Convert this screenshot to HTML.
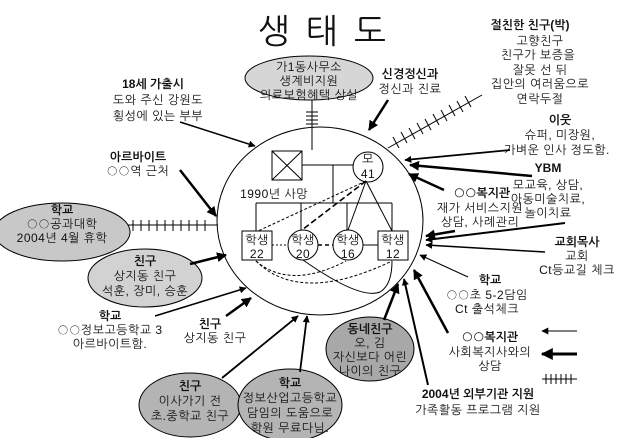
<!DOCTYPE html>
<html><head><meta charset="utf-8"><style>
html,body{margin:0;padding:0;background:#fff;}
svg{display:block;}
text{font-family:"Liberation Sans","NanumGothic","Noto Sans CJK KR",sans-serif;font-size:12px;fill:#111;text-anchor:middle;letter-spacing:0.5px;}
.b{font-weight:bold;letter-spacing:0;}
.o{font-family:"NanumGothic","Noto Sans CJK KR",sans-serif;}
</style></head><body>
<svg width="630" height="438" viewBox="0 0 630 438" xmlns="http://www.w3.org/2000/svg">
<defs>
<marker id="a" viewBox="0 0 10 10" refX="9" refY="5" markerWidth="7" markerHeight="7" markerUnits="userSpaceOnUse" orient="auto"><path d="M0,0L10,5L0,10z" fill="#000"/></marker>
<marker id="a2" viewBox="0 0 10 10" refX="9" refY="5" markerWidth="4" markerHeight="4" orient="auto"><path d="M0,0L10,5L0,10z" fill="#000"/></marker>
</defs>
<text x="330" y="43" style="font-size:34px;font-weight:normal;letter-spacing:16px">생태도</text>

<ellipse cx="320" cy="221" rx="103" ry="94" fill="none" stroke="#000" stroke-width="1"/>

<ellipse cx="309" cy="78" rx="64" ry="22" fill="#d6d6d6" stroke="#000"/>
<text x="309" y="71">가1동사무소</text>
<text x="309" y="85">생계비지원</text>
<text x="309" y="99">의료보험혜택 상실</text>
<line x1="312" y1="100" x2="312" y2="150" stroke="#000"/>
<g stroke="#000"><line x1="306" y1="112" x2="318" y2="112"/><line x1="306" y1="116" x2="318" y2="116"/><line x1="306" y1="120" x2="318" y2="120"/><line x1="306" y1="124" x2="318" y2="124"/></g>

<rect x="272" y="151" width="30" height="29" fill="#fff" stroke="#000"/>
<line x1="272" y1="151" x2="302" y2="180" stroke="#000"/><line x1="302" y1="151" x2="272" y2="180" stroke="#000"/>
<line x1="302" y1="165" x2="353" y2="165" stroke="#000"/>
<ellipse cx="368" cy="167" rx="15" ry="15" fill="#fff" stroke="#000"/>
<text x="368" y="163">모</text><text x="368" y="178">41</text>
<line x1="333" y1="165" x2="333" y2="203" stroke="#000"/>
<line x1="256" y1="203" x2="392" y2="203" stroke="#000"/>
<line x1="256" y1="203" x2="256" y2="231" stroke="#000"/>
<line x1="301" y1="203" x2="301" y2="230" stroke="#000"/>
<line x1="347" y1="203" x2="347" y2="230" stroke="#000"/>
<line x1="392" y1="203" x2="392" y2="231" stroke="#000"/>
<text x="274" y="198">1990년 사망</text>
<line x1="366" y1="181" x2="348" y2="230" stroke="#000"/>
<line x1="366" y1="181" x2="392" y2="231" stroke="#000"/>
<line x1="366" y1="181" x2="258" y2="231" stroke="#000" stroke-dasharray="3,2"/>
<line x1="366" y1="181" x2="302" y2="230" stroke="#000" stroke-width="1.6" stroke-dasharray="6,3"/>
<rect x="242" y="231" width="30" height="29" fill="#fff" stroke="#000"/>
<text x="257" y="244">학생</text><text x="257" y="258">22</text>
<ellipse cx="303" cy="245" rx="15" ry="15" fill="#fff" stroke="#000"/>
<text x="303" y="244">학생</text><text x="303" y="258">20</text>
<ellipse cx="348" cy="245" rx="15" ry="15" fill="#fff" stroke="#000"/>
<text x="348" y="244">학생</text><text x="348" y="258">16</text>
<rect x="378" y="231" width="30" height="29" fill="#fff" stroke="#000"/>
<text x="393" y="244">학생</text><text x="393" y="258">12</text>
<line x1="272" y1="245" x2="288" y2="245" stroke="#000" stroke-dasharray="2,2"/>
<line x1="318" y1="245" x2="333" y2="245" stroke="#000" stroke-width="1.5" stroke-dasharray="4,3"/>
<line x1="363" y1="245" x2="378" y2="245" stroke="#000"/>
<path d="M256,261 Q290,290 346,261" fill="none" stroke="#000" stroke-dasharray="3,2"/>
<path d="M256,261 Q300,305 392,261" fill="none" stroke="#000" stroke-dasharray="3,2"/>
<path d="M303,260 Q360,300 380,292 Q392,285 392,261" fill="none" stroke="#000"/>

<text x="153" y="88" class="b">18세 가출시</text>
<text x="158" y="104">도와 주신 강원도</text>
<text x="158" y="120">횡성에 있는 부부</text>
<line x1="180" y1="122" x2="255" y2="146" stroke="#000" stroke-width="1.5" marker-end="url(#a)"/>
<text x="138" y="161" class="b">아르바이트</text>
<text x="138" y="175"><tspan class="o">○○</tspan>역 근처</text>
<line x1="180" y1="170" x2="216" y2="216" stroke="#000" stroke-width="2.5" marker-end="url(#a2)"/>

<ellipse cx="62" cy="232" rx="68" ry="29" fill="#c8c8c8" stroke="#000"/>
<text x="62" y="214" class="b">학교</text>
<text x="62" y="228"><tspan class="o">○○</tspan>공과대학</text>
<text x="62" y="242">2004년 4월 휴학</text>
<line x1="128" y1="225" x2="218" y2="225" stroke="#000"/>
<g stroke="#000"><line x1="133" y1="220" x2="133" y2="231"/><line x1="141" y1="220" x2="141" y2="231"/><line x1="149" y1="220" x2="149" y2="231"/><line x1="157" y1="220" x2="157" y2="231"/><line x1="165" y1="220" x2="165" y2="231"/><line x1="173" y1="220" x2="173" y2="231"/><line x1="181" y1="220" x2="181" y2="231"/><line x1="189" y1="220" x2="189" y2="231"/><line x1="197" y1="220" x2="197" y2="231"/><line x1="205" y1="220" x2="205" y2="231"/></g>

<ellipse cx="145" cy="278" rx="57" ry="29" fill="#d2d2d2" stroke="#000"/>
<text x="145" y="265" class="b">친구</text>
<text x="145" y="280">상지동 친구</text>
<text x="145" y="295">석훈, 장미, 승훈</text>
<line x1="190" y1="264" x2="226" y2="255" stroke="#000" stroke-width="2.5" marker-end="url(#a2)"/>
<text x="110" y="320" class="b">학교</text>
<text x="110" y="334"><tspan class="o">○○</tspan>정보고등학교 3</text>
<text x="110" y="348">아르바이트함.</text>
<line x1="155" y1="316" x2="246" y2="288" stroke="#000" stroke-width="1.5" marker-end="url(#a)"/>
<text x="210" y="328" class="b">친구</text>
<text x="215" y="342">상지동 친구</text>
<line x1="226" y1="316" x2="251" y2="298" stroke="#000" stroke-width="2.5" marker-end="url(#a2)"/>

<ellipse cx="190" cy="405" rx="51" ry="32" fill="#b4b4b4" stroke="#000"/>
<text x="190" y="390" class="b">친구</text>
<text x="190" y="405">이사가기 전</text>
<text x="190" y="420">초.중학교 친구</text>
<line x1="222" y1="378" x2="298" y2="316" stroke="#000" stroke-width="1.8" marker-end="url(#a)"/>
<ellipse cx="290" cy="405" rx="52" ry="36" fill="#b4b4b4" stroke="#000"/>
<text x="290" y="387" class="b">학교</text>
<text x="290" y="402">정보산업고등학교</text>
<text x="290" y="417">담임의 도움으로</text>
<text x="290" y="432">학원 무료다님.</text>
<line x1="300" y1="372" x2="307" y2="316" stroke="#000" stroke-width="1.8" marker-end="url(#a)"/>

<ellipse cx="370" cy="349" rx="44" ry="32" fill="#a8a8a8" stroke="#000"/>
<text x="370" y="333" class="b">동네친구</text>
<text x="370" y="347">오, 김</text>
<text x="370" y="361">자신보다 어린</text>
<text x="370" y="375">나이의 친구</text>
<line x1="384" y1="320" x2="398" y2="284" stroke="#000" stroke-width="2.5" marker-end="url(#a2)"/>
<text x="478" y="398" class="b">2004년 외부기관 지원</text>
<text x="478" y="414">가족활동 프로그램 지원</text>
<line x1="428" y1="385" x2="404" y2="279" stroke="#000" stroke-width="2" marker-end="url(#a)"/>
<text x="490" y="341" class="b"><tspan class="o">○○</tspan>복지관</text>
<text x="490" y="356">사회복지사와의</text>
<text x="490" y="370">상담</text>
<line x1="448" y1="333" x2="414" y2="270" stroke="#000" stroke-width="2.5" marker-end="url(#a2)"/>
<text x="490" y="284" class="b">학교</text>
<text x="487" y="299"><tspan class="o">○○</tspan>초 5-2담임</text>
<text x="487" y="313">Ct 출석체크</text>
<line x1="468" y1="277" x2="420" y2="255" stroke="#000" stroke-width="1" marker-end="url(#a)"/>
<text x="577" y="246" class="b">교회목사</text>
<text x="577" y="260">교회</text>
<text x="577" y="274">Ct등교길 체크</text>
<line x1="545" y1="252" x2="426" y2="245" stroke="#000" stroke-width="1.5" marker-end="url(#a)"/>
<line x1="565" y1="223" x2="426" y2="240" stroke="#000" stroke-width="2" marker-end="url(#a)"/>
<line x1="455" y1="231" x2="426" y2="236" stroke="#000" stroke-width="2.5" marker-end="url(#a2)"/>

<text x="482" y="197" class="b"><tspan class="o">○○</tspan>복지관</text>
<text x="480" y="212">재가 서비스지원</text>
<text x="480" y="226">상담, 사례관리</text>
<line x1="444" y1="190" x2="409" y2="174" stroke="#000" stroke-width="2.5" marker-end="url(#a2)"/>
<text x="548" y="172" class="b">YBM</text>
<text x="548" y="189">모교육, 상담,</text>
<text x="548" y="203">아동미술치료,</text>
<text x="548" y="217">놀이치료</text>
<line x1="532" y1="176" x2="410" y2="165" stroke="#000" stroke-width="2.5" marker-end="url(#a2)"/>
<text x="560" y="124" class="b">이웃</text>
<text x="560" y="139">슈퍼, 미장원,</text>
<text x="557" y="154">가벼운 인사 정도함.</text>
<line x1="510" y1="150" x2="405" y2="160" stroke="#000" stroke-width="1.8" marker-end="url(#a)"/>
<text x="530" y="29" class="b">절친한 친구(박)</text>
<text x="540" y="45">고향친구</text>
<text x="538" y="59">친구가 보증을</text>
<text x="540" y="74">잘못 선 뒤</text>
<text x="540" y="88">집안의 여러움으로</text>
<text x="540" y="103">연락두절</text>
<line x1="482" y1="95" x2="388" y2="148" stroke="#000"/>
<g stroke="#000"><line x1="393" y1="137" x2="399" y2="148"/><line x1="401" y1="132" x2="407" y2="143"/><line x1="409" y1="128" x2="415" y2="139"/><line x1="417" y1="123" x2="423" y2="134"/><line x1="425" y1="119" x2="431" y2="130"/><line x1="433" y1="114" x2="439" y2="125"/><line x1="441" y1="110" x2="447" y2="121"/><line x1="449" y1="105" x2="455" y2="116"/><line x1="457" y1="101" x2="463" y2="112"/><line x1="465" y1="96" x2="471" y2="107"/></g>
<text x="410" y="78" class="b">신경정신과</text>
<text x="410" y="93">정신과 진료</text>
<line x1="388" y1="100" x2="369" y2="130" stroke="#000" stroke-width="2.5" marker-end="url(#a2)"/>

<line x1="577" y1="331" x2="542" y2="331" stroke="#000" stroke-width="1" marker-end="url(#a)"/>
<line x1="577" y1="354" x2="542" y2="354" stroke="#000" stroke-width="3" marker-end="url(#a2)"/>
<line x1="542" y1="379" x2="577" y2="379" stroke="#000"/>
<g stroke="#000"><line x1="546" y1="374" x2="546" y2="384"/><line x1="551" y1="374" x2="551" y2="384"/><line x1="556" y1="374" x2="556" y2="384"/><line x1="561" y1="374" x2="561" y2="384"/><line x1="566" y1="374" x2="566" y2="384"/><line x1="571" y1="374" x2="571" y2="384"/></g>
</svg>
</body></html>
